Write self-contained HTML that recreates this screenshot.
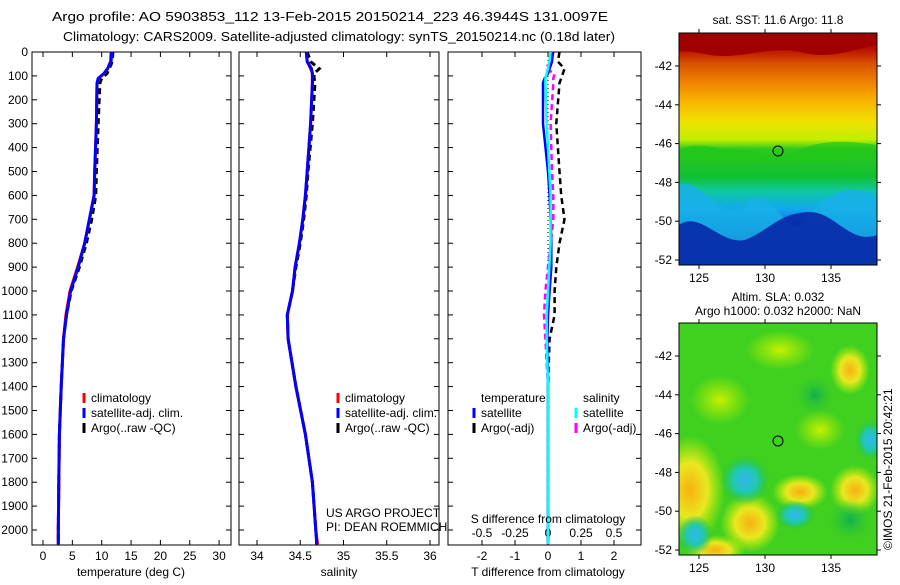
<!DOCTYPE html>
<html><head><meta charset="utf-8"><style>
body{margin:0;background:#fff;width:900px;height:580px;overflow:hidden}
svg{font-family:"Liberation Sans",Arial,sans-serif;font-size:12px}
</style></head><body>
<svg id="c" width="900" height="580" xmlns="http://www.w3.org/2000/svg">
<defs>
<linearGradient id="sst" x1="0" y1="0" x2="0" y2="1">
<stop offset="0" stop-color="#a00000"/><stop offset="0.07" stop-color="#b81000"/><stop offset="0.13" stop-color="#d85000"/>
<stop offset="0.22" stop-color="#f08800"/><stop offset="0.3" stop-color="#f8b800"/><stop offset="0.38" stop-color="#f0e000"/><stop offset="0.46" stop-color="#c0f000"/>
<stop offset="0.5" stop-color="#30c820"/><stop offset="0.62" stop-color="#10c030"/><stop offset="0.68" stop-color="#10c8a0"/>
<stop offset="0.76" stop-color="#10a8f0"/><stop offset="0.84" stop-color="#0860d8"/><stop offset="0.92" stop-color="#001890"/><stop offset="1" stop-color="#000880"/>
</linearGradient>
<radialGradient id="bc"><stop offset="0" stop-color="#30b8f0"/><stop offset="0.5" stop-color="#20c8b0"/><stop offset="1" stop-color="#20c040" stop-opacity="0"/></radialGradient>
<radialGradient id="by"><stop offset="0" stop-color="#f8b010"/><stop offset="0.5" stop-color="#e8e820"/><stop offset="1" stop-color="#c0f000" stop-opacity="0"/></radialGradient>
<radialGradient id="bg"><stop offset="0" stop-color="#10b050"/><stop offset="1" stop-color="#30c830" stop-opacity="0"/></radialGradient>
<radialGradient id="bl"><stop offset="0" stop-color="#c8f000"/><stop offset="1" stop-color="#b0f000" stop-opacity="0"/></radialGradient>
<clipPath id="m2c"><rect x="679" y="323" width="198" height="232"/></clipPath>
<clipPath id="m1c"><rect x="679" y="33" width="198" height="232"/></clipPath>
</defs>
<text x="330" y="21" text-anchor="middle" textLength="556" lengthAdjust="spacingAndGlyphs" font-size="13">Argo profile: AO 5903853_112 13-Feb-2015 20150214_223 46.3944S 131.0097E</text>
<text x="339" y="41" text-anchor="middle" textLength="552" lengthAdjust="spacingAndGlyphs" font-size="13">Climatology: CARS2009. Satellite-adjusted climatology: synTS_20150214.nc (0.18d later)</text>
<g id="p1"></g>
<g id="p2"></g>
<g id="p3"></g>
<g>
<rect x="679" y="33" width="198" height="232" fill="url(#sst)"/>
<g clip-path="url(#m1c)">
<path d="M679,33 L877,33 L877,45 C850,50 830,60 800,52 C770,45 740,60 710,55 C695,52 685,50 679,52Z" fill="#a00000"/>
<path d="M679,150 C700,140 715,150 740,150 C760,150 780,160 800,150 C820,140 845,140 877,145 L877,160 C850,158 820,165 800,162 C770,158 740,170 679,160Z" fill="#20c818" opacity="0.7"/>
<path d="M679,185 C700,175 720,225 745,205 C770,180 780,230 800,225 C820,200 840,180 877,195 L877,265 L679,265Z" fill="#18b0e8" opacity="0.85"/>
<path d="M679,225 C700,210 720,245 745,240 C770,230 780,212 810,212 C835,212 850,245 877,235 L877,265 L679,265Z" fill="#0828a8" opacity="0.9"/>
</g>
<circle cx="778" cy="151" r="5" fill="none" stroke="#000"/>
<rect x="679" y="33" width="198" height="232" fill="none" stroke="#000"/>
</g>
<text x="778" y="24" text-anchor="middle">sat. SST: 11.6  Argo: 11.8</text>
<g>
<rect x="679" y="323" width="198" height="232" fill="#40d020"/>
<g clip-path="url(#m2c)">
<ellipse cx="690" cy="490" rx="35" ry="55" fill="url(#by)"/>
<ellipse cx="750" cy="523" rx="30" ry="30" fill="url(#by)"/>
<ellipse cx="800" cy="492" rx="28" ry="18" fill="url(#by)"/>
<ellipse cx="855" cy="490" rx="25" ry="25" fill="url(#by)"/>
<ellipse cx="850" cy="370" rx="20" ry="25" fill="url(#by)"/>
<ellipse cx="715" cy="550" rx="30" ry="15" fill="url(#by)"/>
<ellipse cx="745" cy="480" rx="25" ry="25" fill="url(#bc)"/>
<ellipse cx="695" cy="535" rx="18" ry="20" fill="url(#bc)"/>
<ellipse cx="795" cy="515" rx="20" ry="15" fill="url(#bc)"/>
<ellipse cx="850" cy="520" rx="22" ry="22" fill="url(#bg)"/>
<ellipse cx="815" cy="395" rx="20" ry="20" fill="url(#bg)"/>
<ellipse cx="870" cy="440" rx="15" ry="20" fill="url(#bc)"/>
<ellipse cx="720" cy="400" rx="30" ry="25" fill="url(#bl)"/>
<ellipse cx="780" cy="350" rx="35" ry="20" fill="url(#bl)"/>
<ellipse cx="820" cy="430" rx="25" ry="20" fill="url(#bl)"/>
</g>
<circle cx="778" cy="441" r="5" fill="none" stroke="#000"/>
<rect x="679" y="323" width="198" height="232" fill="none" stroke="#000"/>
</g>
<text x="778" y="301" text-anchor="middle">Altim. SLA: 0.032</text>
<text x="778" y="315" text-anchor="middle">Argo h1000: 0.032 h2000: NaN</text>
<text transform="translate(892,550) rotate(-90)">©IMOS 21-Feb-2015 20:42:21</text>
<g id="mapax"></g>
</svg>
<script>
const depths=[0,40,70,90,110,130,300,500,600,700,800,900,1000,1100,1200,1400,1600,1800,2000,2060];
const tempClim=[11.6,11.5,11.0,10.4,9.5,9.2,9.1,8.8,8.7,7.9,7.1,5.9,4.6,3.9,3.5,3.1,2.8,2.7,2.6,2.6];
const tempSat=[11.7,11.6,11.0,10.4,9.4,9.2,9.1,8.8,8.7,7.9,7.1,6.0,4.7,4.0,3.5,3.1,2.8,2.7,2.6,2.6];
const tempArgo=[11.9,11.8,11.3,10.9,10.0,9.7,9.4,9.1,9.0,8.3,7.4,6.2,4.8,4.0,3.5,3.1,2.8,2.7,2.6,2.6];
const salClim=[34.57,34.58,34.62,34.64,34.64,34.64,34.62,34.58,34.56,34.53,34.49,34.44,34.41,34.35,34.36,34.45,34.56,34.64,34.68,34.70];
const salSat=[34.57,34.58,34.63,34.64,34.64,34.64,34.62,34.58,34.56,34.53,34.49,34.44,34.41,34.35,34.36,34.45,34.56,34.64,34.68,34.69];
const salArgo=[34.58,34.62,34.72,34.66,34.66,34.67,34.64,34.59,34.57,34.54,34.50,34.45,34.41,34.35,34.36,34.45,34.56,34.64,34.68,34.69];
const dTsat=[0.15,0.12,0.05,0.0,-0.1,-0.15,-0.15,0.0,0.05,0.08,0.1,0.1,0.05,0,-0.02,0,0,0,0,0];
const dTargo=[0.35,0.3,0.5,0.45,0.4,0.35,0.25,0.35,0.4,0.5,0.35,0.25,0.2,0.2,0.05,0,0,0,0,0];
const dSsat=[0.02,0.01,0.0,-0.01,-0.02,-0.02,-0.01,0.01,0.02,0.02,0.02,0.01,0.0,-0.01,-0.01,0,0,0,0,0];
const dSargo=[0.04,0.02,-0.02,0.05,0.04,0.04,0.02,0.03,0.04,0.04,0.02,0.0,-0.02,-0.03,-0.02,0,0,0,0,0];
const depthTicks=[0,100,200,300,400,500,600,700,800,900,1000,1100,1200,1300,1400,1500,1600,1700,1800,1900,2000];
const tTicks=[0,5,10,15,20,25,30];
const sTicks=[34,34.5,35,35.5,36];
const dTTicks=[-2,-1,0,1,2];
const dSTicks=[-0.5,-0.25,0,0.25,0.5];
const lonTicks=[125,130,135];
const latTicks=[-42,-44,-46,-48,-50,-52];
const NS='http://www.w3.org/2000/svg';
const Y0=52,Y1=545;
const yD=d=>52+d*0.239;
const xT=v=>43+v*5.87;
const xS=v=>257+(v-34)*86.5;
const xDT=v=>548+v*33;
const xDS=v=>548+v*132;
function el(p,tag,a){const e=document.createElementNS(NS,tag);for(const k in a)e.setAttribute(k,a[k]);p.appendChild(e);return e;}
function txt(p,x,y,s,anc){const e=el(p,'text',{x:x,y:y,'text-anchor':anc||'start'});e.textContent=s;return e;}
function line(p,xs,col,w,dash,name){const pts=xs.map((v,i)=>v.toFixed(1)+','+yD(depths[i]).toFixed(1)).join(' ');
 const e=el(p,'polyline',{points:pts,fill:'none',stroke:col,'stroke-width':w});if(dash)e.setAttribute('stroke-dasharray',dash);
 
 }
function frame(p,x0,x1,left){
 el(p,'rect',{x:x0,y:Y0,width:x1-x0,height:Y1-Y0,fill:'none',stroke:'#000'});
 depthTicks.forEach(d=>{const y=yD(d);el(p,'line',{x1:x0,x2:x0+5,y1:y,y2:y,stroke:'#000'});el(p,'line',{x1:x1,x2:x1-5,y1:y,y2:y,stroke:'#000'});
  if(left){const t=txt(p,x0-4,y+4,String(d),'end');}});
}
function xticks(p,ticks,f,y,lab){ticks.forEach(v=>{const x=f(v);el(p,'line',{x1:x,x2:x,y1:Y1,y2:Y1-5,stroke:'#000'});el(p,'line',{x1:x,x2:x,y1:Y0,y2:Y0+5,stroke:'#000'});
 if(lab){const t=txt(p,x,y,lab(v),'middle');}});}
function legend(p,x,y,items){items.forEach((it,i)=>{el(p,'line',{x1:x,x2:x,y1:y+i*15-9,y2:y+i*15+1,stroke:it[1],'stroke-width':3});
 const t=txt(p,x+7,y+i*15,it[0]);});}
const p1=document.getElementById('p1');
frame(p1,32,231,true);xticks(p1,tTicks,xT,560,String);
line(p1,tempArgo.map(xT),'#000',3,'6,4','argo-temperature-line');
line(p1,tempClim.map(xT),'#f00',3,null,'climatology-temperature-line');
line(p1,tempSat.map(xT),'#00f',3,null,'satellite-temperature-line');
let t=txt(p1,131,576,'temperature (deg C)','middle');
legend(p1,84,402,[['climatology','#f00'],['satellite-adj. clim.','#00f'],['Argo(..raw -QC)','#000']]);
const p2=document.getElementById('p2');
frame(p2,239,439,false);xticks(p2,sTicks,xS,560,String);
line(p2,salArgo.map(xS),'#000',3,'6,4','argo-salinity-line');
line(p2,salClim.map(xS),'#f00',3,null,'climatology-salinity-line');
line(p2,salSat.map(xS),'#00f',3,null,'satellite-salinity-line');
t=txt(p2,339,576,'salinity','middle');
legend(p2,338,402,[['climatology','#f00'],['satellite-adj. clim.','#00f'],['Argo(..raw -QC)','#000']]);
t=txt(p2,326,517,'US ARGO PROJECT');
t=txt(p2,326,531,'PI: DEAN ROEMMICH');
const p3=document.getElementById('p3');
frame(p3,448,641,false);xticks(p3,dTTicks,xDT,560,v=>v<0?'-'+Math.abs(v):String(v));
dSTicks.forEach(v=>{const tt=txt(p3,xDS(v),537,v<0?'-'+String(Math.abs(v)):String(v),'middle');});
el(p3,'line',{x1:548,x2:548,y1:Y0,y2:Y1,stroke:'#000','stroke-dasharray':'1,3'});
line(p3,dTargo.map(xDT),'#000',2.5,'6,4','argo-t-diff-line');
line(p3,dSargo.map(xDS),'#f0f',2.5,'6,4','argo-s-diff-line');
line(p3,dTsat.map(xDT),'#00f',2.5,null,'satellite-t-diff-line');
line(p3,dSsat.map(xDS),'#0ff',2.5,null,'satellite-s-diff-line');
t=txt(p3,548,523,'S difference from climatology','middle');
t=txt(p3,548,576,'T difference from climatology','middle');
t=txt(p3,481,402,'temperature');
t=txt(p3,583,402,'salinity');
legend(p3,474,417,[['satellite','#00f'],['Argo(-adj)','#000']]);
legend(p3,576,417,[['satellite','#0ff'],['Argo(-adj)','#f0f']]);
const ma=document.getElementById('mapax');
[[33,265],[323,555]].forEach(([y0,y1])=>{
 lonTicks.forEach(v=>{const x=699+(v-125)*13.2;el(ma,'line',{x1:x,x2:x,y1:y0-4,y2:y0,stroke:'#000'});el(ma,'line',{x1:x,x2:x,y1:y1,y2:y1+4,stroke:'#000'});
  const tt=txt(ma,x,y1+17,String(v),'middle');});
 latTicks.forEach(v=>{const y=y0+33+(-42-v)*19.4;el(ma,'line',{x1:675,x2:679,y1:y,y2:y,stroke:'#000'});el(ma,'line',{x1:877,x2:881,y1:y,y2:y,stroke:'#000'});
  const tt=txt(ma,672,y+4,String(v),'end');});
});
</script>
</body></html>
